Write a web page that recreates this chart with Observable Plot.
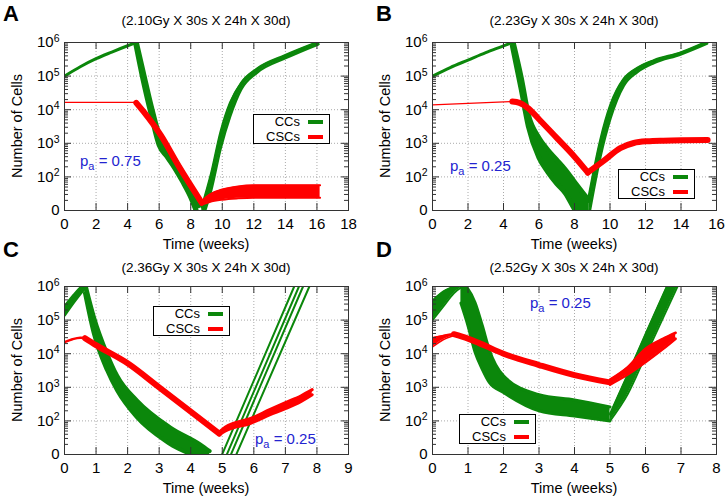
<!DOCTYPE html>
<html><head><meta charset="utf-8">
<script src="https://cdn.jsdelivr.net/npm/d3@7"></script>
<script src="https://cdn.jsdelivr.net/npm/@observablehq/plot@0.6"></script>
<style>
body{margin:0;background:#fff;}
#root{position:relative;width:727px;height:503px;overflow:hidden;font-family:"Liberation Sans",Arial,sans-serif;background:#fff;color:#000}
.abs{position:absolute;white-space:nowrap;line-height:1}
.title{font-size:13.5px;transform:translate(-50%,-50%)}
.letter{font-size:22px;font-weight:bold}
.ylab{font-size:14.5px;transform:translate(-50%,-50%) rotate(-90deg)}
.xlab{font-size:14.5px;transform:translate(-50%,-50%)}
.pa{font-size:15px;color:#2323d0}
.pa sub{font-size:11px;vertical-align:-4px;line-height:0}
.legend{border:1px solid #000;background:#fff;box-sizing:border-box;font-size:13px}
.legend .t{position:absolute;right:29px;line-height:12px;height:12px;transform:translateY(-50%)}
.legend .s{position:absolute;left:54px;width:15px;height:4px;transform:translateY(-50%)}
</style></head>
<body><div id="root"></div>
<script>
// ---------- text / ticks ----------
const panelLetters = ["A", "B", "C", "D"];
const panelTitles = ["(2.10Gy X 30s X 24h X 30d)", "(2.23Gy X 30s X 24h X 30d)", "(2.36Gy X 30s X 24h X 30d)", "(2.52Gy X 30s X 24h X 30d)"];
const paValues = ["0.75", "0.25", "0.25", "0.25"];
const xLabel = "Time (weeks)";
const yLabel = "Number of Cells";
const seriesNames = ["CCs", "CSCs"];
const xTicksA = [0, 2, 4, 6, 8, 10, 12, 14, 16, 18];
const xTicksB = [0, 2, 4, 6, 8, 10, 12, 14, 16];
const xTicksC = [0, 1, 2, 3, 4, 5, 6, 7, 8, 9];
const xTicksD = [0, 1, 2, 3, 4, 5, 6, 7, 8];
const yTicks = [10, 100, 1e3, 1e4, 1e5, 1e6];
const yTickLabels = ["0", "10^2", "10^3", "10^4", "10^5", "10^6"];

// ---------- panel A data: [week, cells] or [week, low, high] ----------
const A_ccGrowth = [[0, 1.0e5], [1, 1.9e5], [2, 3.3e5], [3, 5.2e5], [4, 8.0e5], [4.55, 1.0e6]];
const A_ccTreatment = [[4.5, 1.0e6, 1.3e6], [5.0, 7.1e4, 1.26e5], [5.5, 7.1e3, 1.26e4], [6.0, 890, 1.78e3], [6.5, 400, 710], [7.0, 180, 320], [7.5, 71, 126], [8.0, 25, 50], [8.5, 6.3, 14]];
const A_ccRegrowth = [[8.7, 5, 12.6], [9.3, 40, 126], [9.9, 710, 2.2e3], [10.5, 6.3e3, 1.6e4], [11.2, 4.0e4, 6.3e4], [12.2, 1.26e5, 1.66e5], [14.0, 3.4e5, 4.2e5], [16.1, 8.9e5, 1.05e6]];
const A_cscPre = [[0, 1.65e4], [4.55, 1.65e4]];
const A_cscTreatment = [[4.55, 1.6e4], [5.0, 8.9e3], [6.1, 1.74e3], [7.2, 224], [8.7, 17]];
const A_cscRegrowth = [[8.7, 15, 19], [9.2, 18, 30], [10.0, 21, 42], [11.0, 23, 52], [12.0, 24, 56], [16.2, 24, 56]];

// ---------- panel B data ----------
const B_ccGrowth = [[0, 1.0e5], [1, 1.8e5], [2, 3.0e5], [3, 5.0e5], [4, 7.9e5], [4.5, 1.0e6]];
const B_ccTreatment = [[4.5, 7.9e5, 1.26e6], [5.0, 4.0e4, 8.9e4], [5.4, 3.2e3, 7.1e3], [6.0, 370, 1.45e3], [6.5, 140, 630], [7.0, 63, 320], [7.5, 32, 160], [8.0, 11, 71], [8.5, 5, 32], [8.8, 3.2, 20]];
const B_ccRegrowth = [[8.8, 6.3, 25], [9.46, 400, 1.26e3], [10.03, 5.6e3, 1.4e4], [10.78, 5.2e4, 8.3e4], [11.53, 1.3e5, 1.74e5], [12.47, 2.45e5, 2.95e5], [13.97, 4.4e5, 5.0e5], [15.47, 9.3e5, 1.07e6]];
const B_cscPre = [[0, 1.4e4], [4.5, 1.75e4]];
const B_cscTreatment = [[4.5, 1.75e4], [4.9, 1.6e4], [5.4, 1.1e4], [6.0, 5.2e3], [7.0, 1.45e3], [8.0, 400], [8.75, 135]];
const B_cscRegrowth = [[8.75, 135], [9.64, 300], [10.58, 720], [11.34, 1.02e3], [12.1, 1.15e3], [13.0, 1.2e3], [15.5, 1.25e3]];

// ---------- panel C data ----------
const C_ccGrowth = [[0, 1.4e5, 2.5e5], [0.3, 3.5e5, 5.6e5], [0.55, 7.0e5, 1.0e6], [0.7, 1.0e6, 1.3e6]];
const C_ccTreatment = [[0.65, 6.3e5, 1.26e6], [0.93, 4.0e4, 1.26e5], [1.35, 3.2e3, 1.0e4], [1.67, 800, 2.2e3], [2.3, 126, 400], [3.36, 20, 63], [4.3, 6.3, 20], [4.6, 3.2, 12.6]];
const C_ccRegrowth1 = [[4.95, 8], [7.28, 1.0e6]];
const C_ccRegrowth2 = [[5.1, 8], [7.43, 1.0e6]];
const C_ccRegrowth3 = [[5.23, 8], [7.56, 1.0e6]];
const C_ccRegrowth4 = [[5.4, 8], [7.76, 1.0e6]];
const C_cscPre = [[0, 2.2e4], [0.25, 2.7e4], [0.5, 3.0e4], [0.7, 2.95e4]];
const C_cscTreatment = [[0.65, 2.9e4], [1.0, 1.8e4], [2.0, 5.2e3], [3.0, 1.0e3], [4.0, 190], [4.9, 42]];
const C_cscRegrowth = [[4.9, 38, 46], [5.1, 50, 66], [5.9, 85, 118], [6.5, 150, 215], [7.0, 230, 350], [7.5, 380, 560], [7.85, 600, 850]];

// ---------- panel D data ----------
const D_ccGrowth = [[0, 1.0e5, 3.8e5], [0.3, 2.5e5, 7.0e5], [0.6, 6.3e5, 1.0e6], [0.85, 1.0e6, 1.3e6]];
const D_ccTreatment = [[0.8, 3.2e5, 1.2e6], [1.0, 6.8e4, 8.3e5], [1.2, 1.1e4, 3.3e5], [1.4, 3.5e3, 7.0e4], [1.6, 1.4e3, 1.3e4], [2.0, 700, 2.2e3], [3.0, 200, 600], [4.0, 140, 420], [5.0, 100, 260]];
const D_ccRegrowth = [[5.0, 100, 160], [5.5, 630, 2.4e3], [6.0, 8.7e3, 3.8e4], [6.5, 1.2e5, 5.8e5], [6.9, 1.0e6, 5.0e6]];
const D_cscPre = [[0, 1.6e4, 3.0e4], [0.3, 2.6e4, 3.5e4], [0.6, 3.5e4, 3.9e4]];
const D_cscTreatment = [[0.6, 3.8e4], [1.0, 2.8e4], [1.3, 2.1e4], [2.0, 1.0e4], [3.0, 4.6e3], [4.0, 2.3e3], [5.0, 1.4e3]];
const D_cscRegrowth = [[5.0, 1.2e3, 1.7e3], [5.5, 2.4e3, 4.0e3], [6.0, 5.6e3, 1.4e4], [6.5, 1.4e4, 2.8e4], [6.85, 2.8e4, 4.2e4]];

// ---------- rendering ----------
const GREEN = "#0b870b", RED = "#ff0000", FRAME = "#333";
const curve = "monotone-x";
const FW = 284, FH = 168;

function lineMark(data, color, w) {
  return Plot.line(data, {x: d => d[0], y: d => d[1], stroke: color, strokeWidth: w, curve, clip: true});
}
function bandMarks(data, color, w) {
  return [
    Plot.areaY(data, {x: d => d[0], y1: d => d[1], y2: d => d[2], fill: color, curve, clip: true}),
    Plot.line(data, {x: d => d[0], y: d => d[1], stroke: color, strokeWidth: w, curve, clip: true}),
    Plot.line(data, {x: d => d[0], y: d => d[2], stroke: color, strokeWidth: w, curve, clip: true})
  ];
}

const panels = [
  {left: 0, top: 0, xMax: 18, xTicks: xTicksA, titleDy: -21, pa: [80, 153], legend: [253, 114],
   layers: [["line", A_ccGrowth, GREEN, 3], ["band", A_ccTreatment, GREEN, 5], ["band", A_ccRegrowth, GREEN, 2.5],
            ["line", A_cscPre, RED, 1.2], ["line", A_cscTreatment, RED, 6], ["band", A_cscRegrowth, RED, 2]]},
  {left: 368, top: 0, xMax: 16, xTicks: xTicksB, titleDy: -21, pa: [450, 158], legend: [618, 169],
   layers: [["line", B_ccGrowth, GREEN, 3], ["band", B_ccTreatment, GREEN, 5], ["band", B_ccRegrowth, GREEN, 2.5],
            ["line", B_cscPre, RED, 1.2], ["line", B_cscTreatment, RED, 6], ["line", B_cscRegrowth, RED, 6]]},
  {left: 0, top: 244, xMax: 9, xTicks: xTicksC, titleDy: -18, pa: [255, 431], legend: [153, 306],
   layers: [["band", C_ccGrowth, GREEN, 3], ["band", C_ccTreatment, GREEN, 4],
            ["line", C_ccRegrowth1, GREEN, 2], ["line", C_ccRegrowth2, GREEN, 2], ["line", C_ccRegrowth3, GREEN, 2], ["line", C_ccRegrowth4, GREEN, 2],
            ["line", C_cscPre, RED, 2.5], ["line", C_cscTreatment, RED, 6], ["band", C_cscRegrowth, RED, 3]]},
  {left: 368, top: 244, xMax: 8, xTicks: xTicksD, titleDy: -18, pa: [530, 295], legend: [459, 414],
   layers: [["band", D_ccGrowth, GREEN, 2], ["band", D_ccTreatment, GREEN, 3], ["band", D_ccRegrowth, GREEN, 2],
            ["band", D_cscPre, RED, 1.5], ["line", D_cscTreatment, RED, 6], ["band", D_cscRegrowth, RED, 2.5]]}
];

const minorTicks = [];
for (let k = 1; k <= 5; k++) for (let m = 2; m <= 9; m++) minorTicks.push(m * Math.pow(10, k));

const root = document.getElementById("root");
const NS = "http://www.w3.org/2000/svg";
function addDiv(cls, html, css) {
  const d = document.createElement("div");
  d.className = "abs " + cls;
  d.innerHTML = html;
  Object.assign(d.style, css);
  root.appendChild(d);
  return d;
}

panels.forEach((p, i) => {
  const marks = [
    Plot.gridX(p.xTicks, {stroke: "#aaa", strokeOpacity: 1, strokeDasharray: "1,2"}),
    Plot.gridY(yTicks, {stroke: "#aaa", strokeOpacity: 1, strokeDasharray: "1,2"})
  ];
  p.layers.forEach(([kind, data, color, w]) => {
    if (kind === "line") marks.push(lineMark(data, color, w));
    else marks.push(...bandMarks(data, color, w));
  });
  marks.push(
    Plot.tickY(yTicks, {y: d => d, insetRight: FW - 7, stroke: FRAME}),
    Plot.tickY(yTicks, {y: d => d, insetLeft: FW - 7, stroke: FRAME}),
    Plot.tickY(minorTicks, {y: d => d, insetRight: FW - 4, stroke: FRAME}),
    Plot.tickY(minorTicks, {y: d => d, insetLeft: FW - 4, stroke: FRAME}),
    Plot.tickX(p.xTicks, {x: d => d, insetTop: FH - 7, stroke: FRAME}),
    Plot.tickX(p.xTicks, {x: d => d, insetBottom: FH - 7, stroke: FRAME}),
    Plot.frame({stroke: FRAME, strokeWidth: 1}),
    Plot.axisX({ticks: p.xTicks, tickSize: 0, tickPadding: 8, fontSize: 15, label: null, tickFormat: d => String(d)}),
    Plot.axisY({ticks: yTicks, tickSize: 0, tickPadding: 5, fontSize: 15, label: null,
                tickFormat: d => yTickLabels[yTicks.indexOf(d)]})
  );
  const svg = Plot.plot({
    width: 64 + FW + 12, height: 42 + FH + 40,
    marginLeft: 64, marginRight: 12, marginTop: 42, marginBottom: 40,
    x: {domain: [0, p.xMax]},
    y: {type: "log", domain: [10, 1e6]},
    style: {fontFamily: "'Liberation Sans', Arial, sans-serif", fontSize: "15px", background: "transparent", overflow: "visible"},
    marks
  });
  svg.style.position = "absolute";
  svg.style.left = p.left + "px";
  svg.style.top = p.top + "px";
  // superscript exponents on y tick labels
  svg.querySelectorAll('g[aria-label="y-axis tick label"] text').forEach(t => {
    const s = t.textContent;
    const j = s.indexOf("^");
    if (j < 0) return;
    t.textContent = "";
    const base = document.createElementNS(NS, "tspan");
    base.textContent = s.slice(0, j);
    const sup = document.createElementNS(NS, "tspan");
    sup.textContent = s.slice(j + 1);
    sup.setAttribute("dy", "-0.5em");
    sup.setAttribute("font-size", "10.5");
    t.append(base, sup);
  });
  root.appendChild(svg);

  const fx = p.left + 64, fy = p.top + 42;
  addDiv("title", panelTitles[i], {left: (fx + FW / 2) + "px", top: (fy + p.titleDy) + "px"});
  addDiv("letter", panelLetters[i], {left: (p.left === 0 ? 3 : 376) + "px", top: (p.top === 0 ? 3 : 239) + "px"});
  addDiv("ylab", yLabel, {left: (fx - 47) + "px", top: (fy + FH / 2) + "px"});
  addDiv("xlab", xLabel, {left: (fx + FW / 2) + "px", top: (fy + FH + 34) + "px"});
  addDiv("pa", "p<sub>a</sub> = " + paValues[i], {left: p.pa[0] + "px", top: p.pa[1] + "px"});
  const lg = addDiv("legend", "", {left: p.legend[0] + "px", top: p.legend[1] + "px", width: "77px", height: "30px"});
  [[seriesNames[0], GREEN, 6.5], [seriesNames[1], RED, 21.5]].forEach(([name, color, cy]) => {
    const t = document.createElement("div"); t.className = "t"; t.textContent = name; t.style.top = cy + "px"; lg.appendChild(t);
    const s = document.createElement("div"); s.className = "s"; s.style.background = color; s.style.top = cy + "px"; lg.appendChild(s);
  });
});
</script>
</body></html>
